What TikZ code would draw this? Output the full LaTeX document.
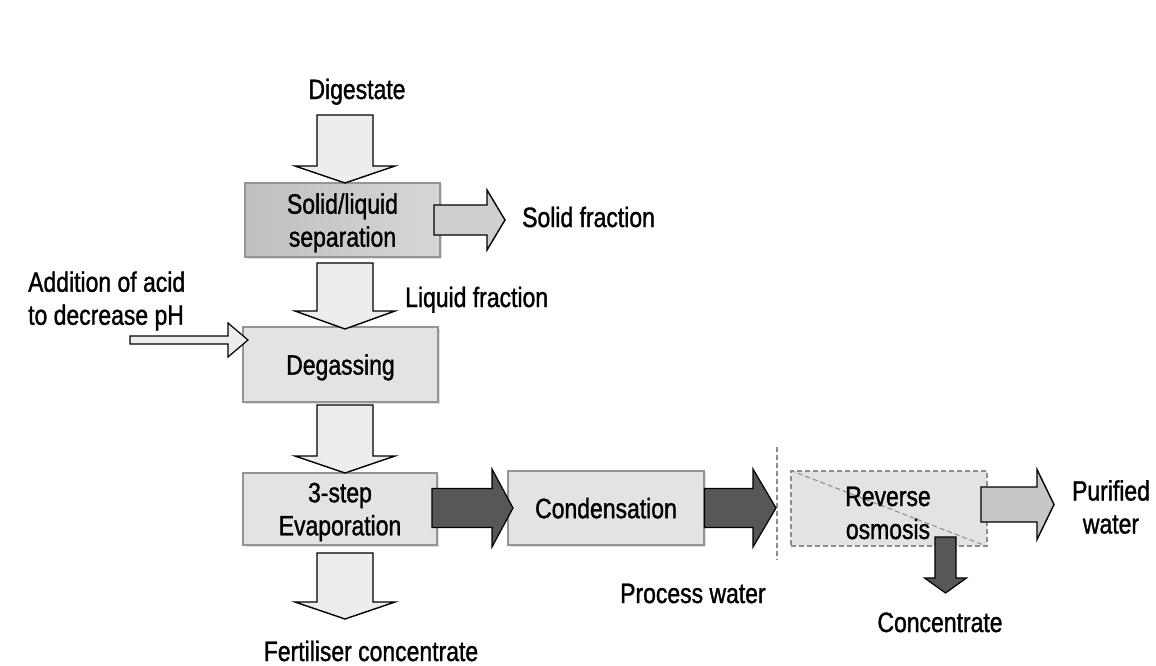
\documentclass[tikz,border=0pt]{standalone}
\usepackage{fontspec}
\setmainfont{Liberation Sans}[FakeStretch=0.82, FakeBold=1.2]
\usetikzlibrary{calc,shadows}

\newcommand{\labfont}{\fontsize{28}{33}\selectfont}

% block arrow pointing right: style, tail, tip, shaft half-width, head half-width, head length
\newcommand{\harrow}[6]{%
  \path[#1] let \p1=(#2), \p2=(#3) in
    (\x1,\y1+#4pt) -- (\x2-#6pt,\y1+#4pt) -- (\x2-#6pt,\y1+#5pt) -- (\x2,\y1)
    -- (\x2-#6pt,\y1-#5pt) -- (\x2-#6pt,\y1-#4pt) -- (\x1,\y1-#4pt) -- cycle;}
% block arrow pointing down: style, tail, tip, shaft half-width, head half-width, head length
\newcommand{\varrow}[6]{%
  \path[#1] let \p1=(#2), \p2=(#3) in
    (\x1-#4pt,\y1) -- (\x1-#4pt,\y2+#6pt) -- (\x1-#5pt,\y2+#6pt) -- (\x1,\y2)
    -- (\x1+#5pt,\y2+#6pt) -- (\x1+#4pt,\y2+#6pt) -- (\x1+#4pt,\y1) -- cycle;}

\begin{document}
\begin{tikzpicture}[x=1pt,y=-1pt,
  txt/.style={inner sep=0pt, font=\labfont},
  procbox/.style={txt, draw=black!42, line width=1.1pt, fill=black!11, align=center,
    minimum width=195pt, minimum height=73pt, text depth=0pt,
    drop shadow={shadow xshift=1.5pt, shadow yshift=-1.5pt, opacity=0.25}},
  lightarrow/.style={draw=black, line width=1.4pt, fill=black!7, line join=miter},
  midarrow/.style={lightarrow, fill=black!19},
  darkarrow/.style={draw=black, line width=1.2pt, fill=black!66, line join=miter},
  guide/.style={draw=black!45, line width=1.2pt, dash pattern=on 5pt off 3pt}]

\useasboundingbox (0,0) rectangle (1156,665);
\fill[white] (0,0) rectangle (1156,665);

% process steps
\node[procbox, left color=black!25, right color=black!16, minimum width=195pt, minimum height=74pt]
  (sl) at (342.5,220) {Solid/liquid\\separation};
\node[procbox, minimum width=195pt, minimum height=75pt] (deg) at (340.5,364.5) {Degassing};
\node[procbox, minimum width=194pt, minimum height=72pt] (evap) at (340,509) {3-step\\Evaporation};
\node[procbox, minimum width=196pt, minimum height=74pt] (cond) at (606,508) {Condensation};

% reverse osmosis unit (dashed)
\node[txt, guide, fill=black!11, minimum width=196pt, minimum height=75pt] (ro) at (889,508.5) {};
\draw[guide, line width=1pt] (ro.north west) -- (ro.south east);
\node[txt, align=center] (rotext) at (888,513) {Reverse\\osmosis};

% divider between evaporation line and polishing step
\coordinate (divtop) at (777,447);
\coordinate (divbot) at (777,560);
\draw[guide] (divtop) -- (divbot);

% stream labels
\node[txt, anchor=base] (dig) at (357,99) {Digestate};
\node[txt, anchor=base west] (solid) at (522,227) {Solid fraction};
\node[txt, anchor=base west] (liquid) at (405,307) {Liquid fraction};
\node[txt, anchor=west, align=left] (acid) at (28,301) {Addition of acid\\to decrease pH};
\node[txt, anchor=base west] (proc) at (620,603) {Process water};
\node[txt, anchor=base] (conc) at (940,632) {Concentrate};
\node[txt, anchor=base] (fert) at (371,661) {Fertiliser concentrate};
\node[txt, align=center] (pure) at (1111,507) {Purified\\water};

% arrow end points
\coordinate (a1s) at (345,115);
\coordinate (a1e) at (345,183);
\coordinate (a2s) at (345,263);
\coordinate (a2e) at (345,329);
\coordinate (a3s) at (345,405);
\coordinate (a3e) at (345,473);
\coordinate (a4s) at (345,553);
\coordinate (a4e) at (345,619);
\coordinate (sfs) at (434,220);
\coordinate (sfe) at (505,220);
\coordinate (acs) at (130,340);
\coordinate (ace) at (248,340);
\coordinate (e1s) at (432,508);
\coordinate (e1e) at (513,508);
\coordinate (e2e) at (776,508);
\coordinate (pws) at (981,504.5);
\coordinate (pwe) at (1054,504.5);
\coordinate (cos) at (945.5,537);
\coordinate (coe) at (945.5,593);

% main line
\varrow{lightarrow}{a1s}{a1e}{28}{50}{17}
\varrow{lightarrow}{a2s}{a2e}{28}{50}{18}
\varrow{lightarrow}{a3s}{a3e}{28}{50}{17}
\varrow{lightarrow}{a4s}{a4e}{28}{50}{17}
\harrow{midarrow}{sfs}{sfe}{15}{30}{18}
\harrow{lightarrow, line width=1.2pt}{acs}{ace}{4}{17}{20}

% water line
\harrow{darkarrow}{e1s}{e1e}{19.5}{39}{21}
\harrow{darkarrow}{cond.east}{e2e}{19.5}{39}{23}
\harrow{midarrow, fill=black!22}{pws}{pwe}{17.5}{35}{17}
\varrow{darkarrow}{cos}{coe}{10.5}{21}{15}

\end{tikzpicture}
\end{document}
